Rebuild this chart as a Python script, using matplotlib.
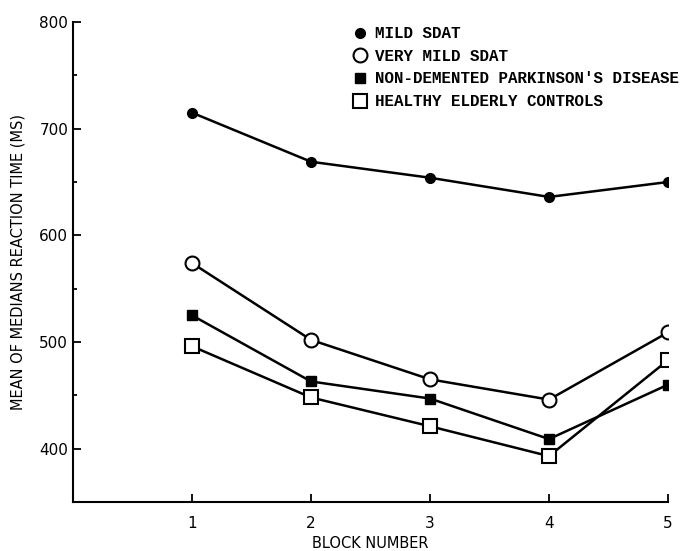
import numpy as np
import matplotlib
matplotlib.use("Agg")
import matplotlib.pyplot as plt
from matplotlib.lines import Line2D

blocks = [1, 2, 3, 4, 5]
mild_sdat = [715, 669, 654, 636, 650]
very_mild_sdat = [574, 502, 465, 446, 509]
parkinson = [525, 463, 447, 409, 460]
healthy = [496, 448, 421, 393, 483]

labels = ["MILD SDAT", "VERY MILD SDAT",
          "NON-DEMENTED PARKINSON'S DISEASE", "HEALTHY ELDERLY CONTROLS"]

fig = plt.figure(figsize=(6.87, 5.51), dpi=100)
ax = fig.add_axes([73 / 687, 49 / 551, 595 / 687, 480 / 551])

ax.plot(blocks, mild_sdat, color="black", lw=1.8, marker="o", ms=7,
        mfc="black", mec="black", zorder=3)
ax.plot(blocks, very_mild_sdat, color="black", lw=1.8, marker="o", ms=10,
        mfc="white", mec="black", mew=1.5, zorder=3)
ax.plot(blocks, parkinson, color="black", lw=1.8, marker="s", ms=7,
        mfc="black", mec="black", zorder=3)
ax.plot(blocks, healthy, color="black", lw=1.8, marker="s", ms=10,
        mfc="white", mec="black", mew=1.5, zorder=3)

ax.set_xlim(0, 5)
ax.set_ylim(350, 800)
ax.set_xticks(blocks)
ax.set_yticks([400, 500, 600, 700, 800])
ax.set_yticks([450, 550, 650, 750], minor=True)
ax.spines["top"].set_visible(False)
ax.spines["right"].set_visible(False)
ax.spines["left"].set_linewidth(1.5)
ax.spines["bottom"].set_linewidth(1.5)
ax.tick_params(axis="both", which="major", direction="in", length=6, width=1.3,
               labelsize=11)
ax.tick_params(axis="y", which="minor", direction="in", length=3, width=1.3)
ax.tick_params(axis="x", pad=10)

ax.set_xlabel("BLOCK NUMBER", fontsize=10.5, labelpad=4)
ax.set_ylabel("MEAN OF MEDIANS REACTION TIME (MS)", fontsize=10.5, labelpad=10)

handles = [
    Line2D([], [], ls="none", marker="o", ms=7, mfc="black", mec="black"),
    Line2D([], [], ls="none", marker="o", ms=10, mfc="white", mec="black", mew=1.5),
    Line2D([], [], ls="none", marker="s", ms=7, mfc="black", mec="black"),
    Line2D([], [], ls="none", marker="s", ms=10, mfc="white", mec="black", mew=1.5),
]
fig.legend(handles, labels, loc="upper left", bbox_to_anchor=(338 / 687, 1 - 12 / 551),
           frameon=False, handlelength=1.0, handletextpad=0.45, labelspacing=0.48,
           prop={"family": "Liberation Mono", "weight": "bold", "size": 11.4})

fig.savefig("out.png", dpi=100)
